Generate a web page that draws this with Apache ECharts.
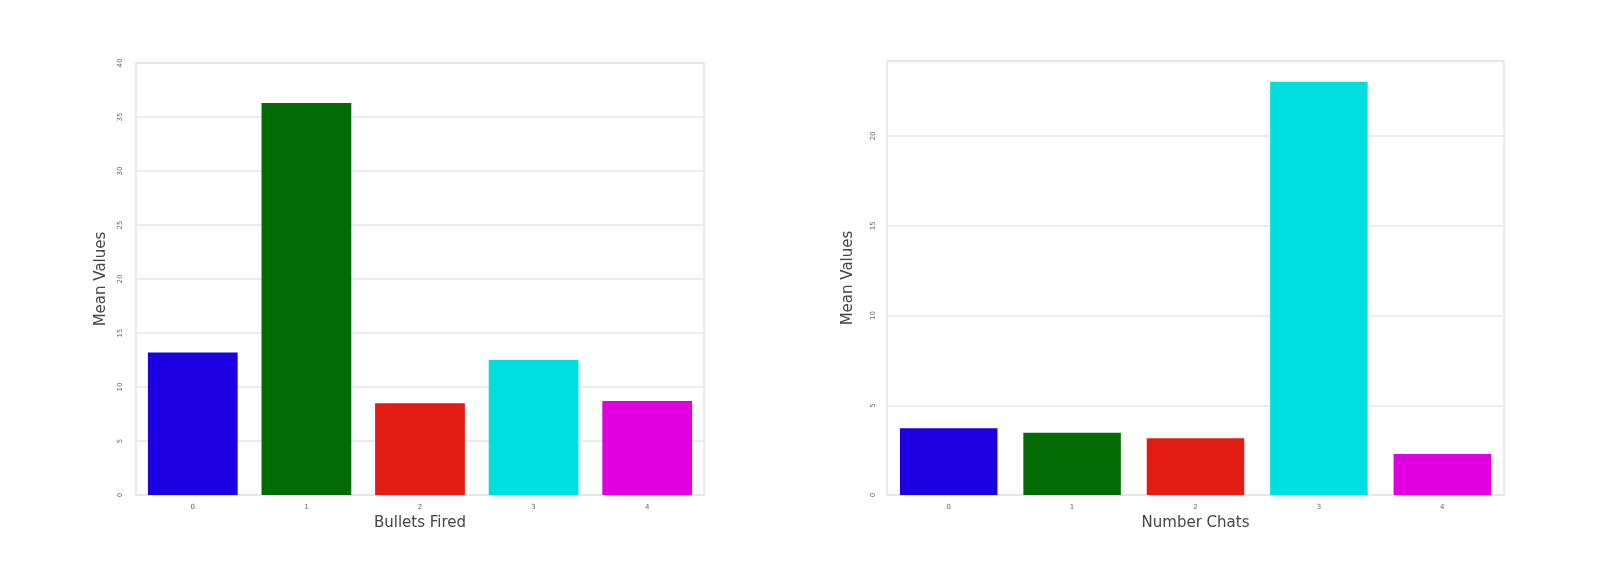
<!DOCTYPE html>
<html>
<head>
<meta charset="utf-8">
<script src="https://cdn.jsdelivr.net/npm/echarts@6/dist/echarts.min.js"></script>
<style>
  html, body { margin: 0; padding: 0; background: #fff; }
  #main { width: 1600px; height: 575px; }
</style>
</head>
<body>
<div id="main"></div>
<script>
// categories and values
var categories = ['0', '1', '2', '3', '4'];
var bulletsMeans = [13.2, 36.3, 8.5, 12.5, 8.7];
var chatsMeans = [3.72, 3.47, 3.16, 23.03, 2.28];
var barColors = ['#1c00e2', '#056b05', '#e21b14', '#00dede', '#e000e0'];

var myChart = echarts.init(document.getElementById('main'));

function colored(values) {
    var out = [];
    for (var i = 0; i < values.length; i++) {
        out.push({ value: values[i], itemStyle: { color: barColors[i] } });
    }
    return out;
}

var tickLabel = { fontSize: 7, color: '#666', fontFamily: 'DejaVu Sans' };
var nameStyle = { fontSize: 15, color: '#444', fontFamily: 'DejaVu Sans' };
var lightLine = { lineStyle: { color: '#e6e6e6', width: 1.5 } };

option = {
    backgroundColor: '#fff',
    animation: false,
    grid: [
        { left: 136, right: 896, top: 63, bottom: 80, show: true, borderColor: '#e6e6e6', borderWidth: 1.5 },
        { left: 887, right: 96, top: 61, bottom: 80, show: true, borderColor: '#e6e6e6', borderWidth: 1.5 }
    ],
    xAxis: [
        {
            gridIndex: 0, type: 'category', data: categories,
            name: 'Bullets Fired', nameLocation: 'middle', nameGap: 20, nameTextStyle: nameStyle,
            axisLine: lightLine, axisTick: { show: false },
            axisLabel: Object.assign({ margin: 9 }, tickLabel)
        },
        {
            gridIndex: 1, type: 'category', data: categories,
            name: 'Number Chats', nameLocation: 'middle', nameGap: 20, nameTextStyle: nameStyle,
            axisLine: lightLine, axisTick: { show: false },
            axisLabel: Object.assign({ margin: 9 }, tickLabel)
        }
    ],
    yAxis: [
        {
            gridIndex: 0, type: 'value', min: 0, max: 40, interval: 5,
            name: 'Mean Values', nameLocation: 'middle', nameGap: 27, nameTextStyle: nameStyle,
            axisLine: { show: false }, axisTick: { show: false },
            axisLabel: Object.assign({ margin: 12, rotate: 90 }, tickLabel),
            splitLine: lightLine
        },
        {
            gridIndex: 1, type: 'value', min: 0, max: 24.18, interval: 5,
            name: 'Mean Values', nameLocation: 'middle', nameGap: 31, nameTextStyle: nameStyle,
            axisLine: { show: false }, axisTick: { show: false },
            axisLabel: Object.assign({ margin: 10, rotate: 90, showMaxLabel: false }, tickLabel),
            splitLine: lightLine
        }
    ],
    series: [
        {
            type: 'bar', xAxisIndex: 0, yAxisIndex: 0,
            barCategoryGap: '21%', data: colored(bulletsMeans)
        },
        {
            type: 'bar', xAxisIndex: 1, yAxisIndex: 1,
            barCategoryGap: '21%', data: colored(chatsMeans)
        }
    ]
};

myChart.setOption(option);
</script>
</body>
</html>
